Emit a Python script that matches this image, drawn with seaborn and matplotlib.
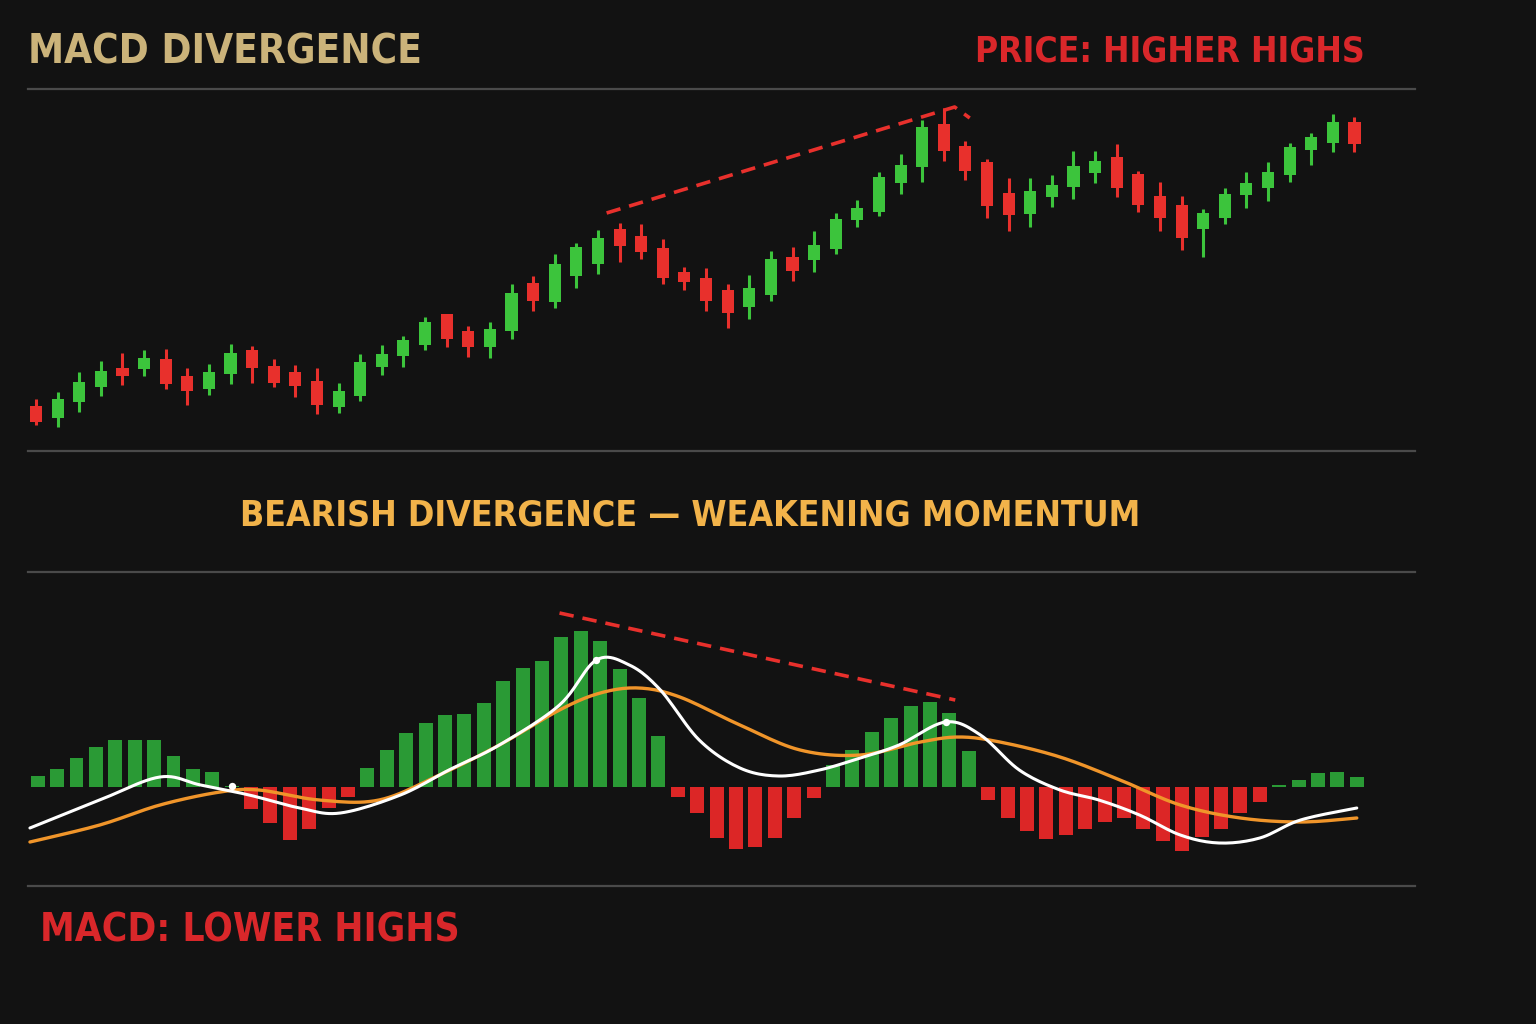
import numpy as np
import pandas as pd
import matplotlib
matplotlib.use("Agg")
import matplotlib.pyplot as plt
import seaborn as sns

sns.set_theme(style="dark")
plt.rcParams['font.family'] = ['DejaVu Sans']

# price candles (open, high, low, close)
opens = [44, 32, 48, 63, 82, 81, 91, 74, 61, 76, 100, 84, 78, 69, 43, 54, 83, 94, 105, 136, 119, 103,
         119, 167, 148, 174, 186, 221, 214, 202, 178, 172, 160, 143, 155, 193, 190, 201, 230, 238, 267,
         283, 326, 304, 288, 257, 236, 253, 263, 277, 293, 276, 254, 245, 221, 232, 255, 262, 275, 300, 307, 328]
highs = [51, 58, 78, 89, 97, 100, 101, 82, 86, 106, 104, 91, 85, 82, 67, 96, 105, 114, 133, 136, 124, 128,
         166, 174, 196, 207, 220, 227, 226, 211, 183, 182, 166, 175, 199, 203, 219, 237, 250, 278, 296,
         330, 342, 309, 291, 272, 272, 275, 299, 299, 306, 279, 268, 254, 241, 262, 278, 288, 307, 317, 336, 333]
lows = [25, 23, 38, 54, 65, 74, 61, 45, 55, 66, 67, 63, 53, 36, 37, 49, 75, 83, 100, 103, 93, 92,
        111, 139, 142, 162, 176, 188, 191, 166, 160, 139, 122, 131, 149, 169, 178, 196, 223, 234, 256,
        268, 289, 270, 232, 219, 223, 243, 251, 267, 253, 238, 219, 200, 193, 226, 242, 249, 268, 285, 298, 298]
closes = [28, 51, 68, 79, 74, 92, 66, 59, 78, 97, 82, 67, 64, 45, 59, 88, 96, 110, 128, 111, 103, 121,
          157, 149, 186, 203, 212, 204, 198, 172, 168, 149, 137, 162, 191, 179, 205, 231, 242, 273, 285,
          323, 299, 279, 244, 235, 259, 265, 284, 289, 262, 245, 232, 212, 237, 256, 267, 278, 303, 313, 328, 306]

# price trend line (candle index, price)
price_trend_x = [26.4, 42.5, 43.2]
price_trend_y = [237, 343, 332]

# MACD histogram
hist = [11, 18, 29, 40, 47, 47, 47, 31, 18, 15, 1, -22, -36, -53, -42, -21, -10, 19, 37, 54, 64, 72, 73,
        84, 106, 119, 126, 150, 156, 146, 118, 89, 51, -10, -26, -51, -62, -60, -51, -31, -11, 22, 37,
        55, 69, 81, 85, 74, 36, -13, -31, -44, -52, -48, -42, -35, -31, -42, -54, -64, -50, -42, -26,
        -15, 2, 7, 14, 15, 10]

macd_x = [-0.4, 3.2, 6.3, 8.4, 10.9, 13.5, 15.6, 18.7, 21.2, 23.8, 26.9, 28.8, 30.5, 32.1, 34.1, 36.2,
          38.2, 40.3, 42.4, 44.4, 46.8, 48.6, 50.6, 52.7, 54.7, 56.8, 58.9, 60.9, 63.0, 65.1, 68.0]
macd_y = [-41, -13, 10, 2, -8, -21, -26, -8, 17, 42, 82, 127, 122, 97, 47, 19, 11, 17, 29, 42, 65, 52,
          17, -3, -13, -28, -48, -56, -51, -33, -21]
signal_x = [-0.4, 3.2, 6.3, 9.4, 11.4, 14.5, 17.6, 20.7, 23.8, 26.9, 29.0, 31.0, 33.1, 36.2, 39.3, 42.4,
            45.5, 47.5, 49.6, 52.7, 55.8, 58.9, 62.0, 65.1, 68.0]
signal_y = [-55, -38, -18, -5, -3, -13, -13, 12, 42, 77, 94, 99, 90, 62, 37, 32, 45, 50, 45, 30, 7, -18,
            -31, -35, -31]
macd_dots_x = [10.0, 28.8, 46.8]
macd_dots_y = [1, 127, 65]

macd_trend_x = [26.9, 47.3]
macd_trend_y = [174, 87]

BG = "#121212"
GREEN = "#3cc43c"
RED = "#e8302c"
HGREEN = "#2a9a35"
HRED = "#dc2626"
SEP = "#4a4a4a"


def smooth(xs, ys, n=12):
    # catmull-rom through the read points, only for drawing a smooth curve
    p = np.column_stack([xs, ys]).astype(float)
    p = np.vstack([p[0], p, p[-1]])
    out = []
    t = np.linspace(0, 1, n, endpoint=False)[:, None]
    for i in range(1, len(p) - 2):
        p0, p1, p2, p3 = p[i - 1], p[i], p[i + 1], p[i + 2]
        seg = 0.5 * ((2 * p1) + (-p0 + p2) * t + (2 * p0 - 5 * p1 + 4 * p2 - p3) * t ** 2
                     + (-p0 + 3 * p1 - 3 * p2 + p3) * t ** 3)
        out.append(seg)
    out.append(p[-2][None, :])
    out = np.vstack(out)
    return out[:, 0], out[:, 1]


fig = plt.figure(figsize=(15.36, 10.24), dpi=100, facecolor=BG)
W, H = 1536, 1024

def make_ax(x0, y0, x1, y1):
    ax = fig.add_axes([x0 / W, 1 - y1 / H, (x1 - x0) / W, (y1 - y0) / H])
    ax.set_facecolor((0, 0, 0, 0))
    ax.grid(False)
    for s in ['left', 'right']:
        ax.spines[s].set_visible(False)
    for s in ['top', 'bottom']:
        ax.spines[s].set_color(SEP)
        ax.spines[s].set_linewidth(1.6)
    ax.set_xticks([])
    ax.set_yticks([])
    return ax

# price panel
ax1 = make_ax(28, 89, 1415, 451)
idx = np.arange(len(opens))
o = np.array(opens); c = np.array(closes)
cols = [GREEN if cc >= oo else RED for oo, cc in zip(o, c)]
ax1.vlines(idx, lows, highs, colors=cols, linewidth=2.2, zorder=2)
ax1.bar(idx, np.abs(c - o), bottom=np.minimum(o, c), width=0.56, color=cols, linewidth=0, zorder=3)
ax1.plot(price_trend_x, price_trend_y, color=RED, lw=2.6, ls=(0, (4, 2.5)), zorder=4)
ax1.set_xlim(-0.37, 63.8)
ax1.set_ylim(-1, 361)

# MACD panel
ax2 = make_ax(28, 572, 1415, 886)
hidx = np.arange(len(hist))
hv = np.array(hist)
hcols = [HGREEN if v >= 0 else HRED for v in hv]
ax2.bar(hidx, hv, width=0.72, color=hcols, linewidth=0, zorder=2)
sx, sy = smooth(signal_x, signal_y)
mx, my = smooth(macd_x, macd_y)
sns.lineplot(x=sx, y=sy, ax=ax2, color="#f0952a", lw=2.4, sort=False, zorder=3)
sns.lineplot(x=mx, y=my, ax=ax2, color="white", lw=2.2, sort=False, zorder=4)
ax2.scatter(macd_dots_x, macd_dots_y, s=28, color="white", linewidths=0, zorder=5)
ax2.plot(macd_trend_x, macd_trend_y, color=RED, lw=2.6, ls=(0, (4, 2.5)), zorder=4)
ax2.set_xlim(-0.5, 71)
ax2.set_ylim(-99, 215)

# text
fkw = dict(fontweight='bold', fontstretch='condensed', transform=fig.transFigure)
fig.text(28 / W, 1 - 52 / H, "MACD DIVERGENCE", color="#cbb37a", fontsize=29, va='center', ha='left', **fkw)
fig.text(1365 / W, 1 - 52 / H, "PRICE: HIGHER HIGHS", color="#d9272a", fontsize=25.4, va='center', ha='right', **fkw)
fig.text(690 / W, 1 - 516 / H, "BEARISH DIVERGENCE \u2014 WEAKENING MOMENTUM", color="#f2b34a",
         fontsize=25.6, va='center', ha='center', **fkw)
fig.text(40 / W, 1 - 930 / H, "MACD: LOWER HIGHS", color="#d9272a", fontsize=27.9, va='center', ha='left', **fkw)

fig.savefig("out.png", dpi=100, facecolor=BG)
